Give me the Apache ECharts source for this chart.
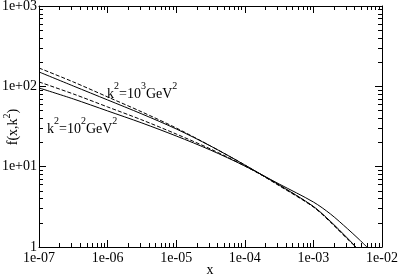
<!DOCTYPE html>
<html><head><meta charset="utf-8">
<script src="https://cdn.jsdelivr.net/npm/echarts@6/dist/echarts.min.js"></script>
<style>html,body{margin:0;padding:0;background:#fff}#c{width:400px;height:278px}</style>
</head><body><div id="c"></div>
<script>
const xs = [1e-7, 3.16e-7, 1e-6, 3.16e-6, 1e-5, 3.16e-5, 1e-4, 3.16e-4, 1e-3, 1.78e-3, 3.16e-3, 4.17e-3, 4.47e-3, 6.03e-3];
const solid1000 = [151, 101, 67.7, 45.3, 29.5, 18.1, 10.5, 5.92, 3.2, 2.08, 1.28, 1.0, null, null];
const dashed1000 = [169, 113.5, 73.8, 48.0, 30.3, 18.1, 10.5, 5.80, 3.15, 2.03, 1.25, 1.0, null, null];
const solid100 = [95.5, 69.7, 49.4, 35.0, 24.1, 16.1, 10.2, 6.09, 3.63, 2.57, 1.68, null, 1.28, 1.0];
const dashed100 = [113.5, 80.4, 55.4, 38.2, 25.5, 16.6, 10.2, 5.92, 3.17, 2.05, 1.26, 1.0, null, null];
const xTicks = ['1e-07','1e-06','1e-05','1e-04','1e-03','1e-02'];
const yTicks = ['1','1e+01','1e+02','1e+03'];

function pairs(vals){ const out=[]; for(let i=0;i<xs.length;i++){ if(vals[i]!=null) out.push([xs[i], vals[i]]); } return out; }
const FONT = 'Liberation Serif';
function fmtX(v){ const e=Math.round(Math.log10(v)); return xTicks[e+7]; }
function fmtY(v){ const e=Math.round(Math.log10(v)); return yTicks[e]; }

const chart = echarts.init(document.getElementById('c'));
const axisCommon = {
  axisLine:{show:true,onZero:false,lineStyle:{color:'#000',width:1}},
  axisTick:{show:true,inside:true,length:7,lineStyle:{color:'#000'}},
  minorTick:{show:true,splitNumber:9,length:4,lineStyle:{color:'#000'}},
  splitLine:{show:false}, minorSplitLine:{show:false}
};
function line(data, dashed){
  return {type:'line', data:pairs(data), smooth:0.3, symbol:'none', xAxisIndex:0, yAxisIndex:0,
    lineStyle:{color:'#000', width:1, type: dashed?[4,2]:'solid'}};
}
const rich = {
  n:{fontFamily:FONT,fontSize:14,fill:'#000',verticalAlign:'bottom',lineHeight:20},
  s:{fontFamily:FONT,fontSize:10,fill:'#000',verticalAlign:'top',lineHeight:20}
};
chart.setOption({
  animation:false,
  grid:{left:39, right:18, top:6, bottom:31, outerBoundsMode:'none', containLabel:false},
  xAxis:[
    Object.assign({type:'log', logBase:10, min:1e-7, max:1e-2, position:'bottom',
      axisLabel:{formatter:fmtX, color:'#000', fontFamily:FONT, fontSize:14, margin:4}}, axisCommon),
    Object.assign({type:'log', logBase:10, min:1e-7, max:1e-2, position:'top', axisLabel:{show:false}}, axisCommon)
  ],
  yAxis:[
    Object.assign({type:'log', logBase:10, min:1, max:1000, position:'left',
      axisLabel:{formatter:fmtY, color:'#000', fontFamily:FONT, fontSize:14, margin:2}}, axisCommon),
    Object.assign({type:'log', logBase:10, min:1, max:1000, position:'right', axisLabel:{show:false}}, axisCommon)
  ],
  series:[ line(solid1000,false), line(dashed1000,true), line(solid100,false), line(dashed100,true) ],
  graphic:[
    {type:'text', x:210, y:270, style:{text:'x', align:'center', verticalAlign:'middle', fontFamily:FONT, fontSize:14, fill:'#000'}},
    {type:'text', left:107, top:81, style:{text:'{n|k}{s|2}{n|=10}{s|3}{n|GeV}{s|2}', rich:rich}},
    {type:'text', left:47, top:116, style:{text:'{n|k}{s|2}{n|=10}{s|2}{n|GeV}{s|2}', rich:rich}},
    {type:'text', x:11, y:127, rotation:Math.PI/2, style:{text:'{n|f(x,k}{s|2}{n|)}', align:'center', verticalAlign:'middle', rich:{
      n:{fontFamily:FONT,fontSize:14,fill:'#000',verticalAlign:'bottom',lineHeight:18},
      s:{fontFamily:FONT,fontSize:10,fill:'#000',verticalAlign:'top',lineHeight:18}}}}
  ]
});
</script></body></html>
